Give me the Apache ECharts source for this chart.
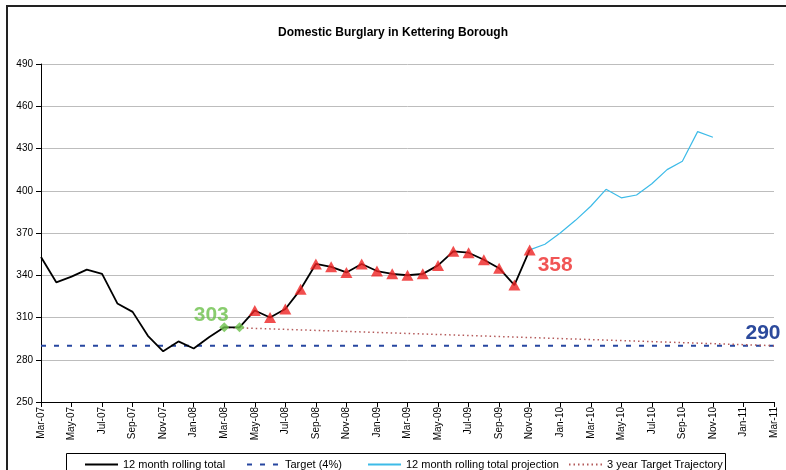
<!DOCTYPE html>
<html>
<head>
<meta charset="utf-8">
<title>Domestic Burglary in Kettering Borough</title>
<script src="https://cdn.jsdelivr.net/npm/echarts@6/dist/echarts.min.js"></script>
<style>
    html, body {margin: 0; padding: 0; background: #fff;}
    #chart {width: 786px; height: 470px;}
</style>
</head>
<body>
<div id="chart"></div>
<script>
// months Mar-07 .. Mar-11
const months = [
    'Mar-07', 'Apr-07', 'May-07', 'Jun-07', 'Jul-07', 'Aug-07', 'Sep-07', 'Oct-07', 'Nov-07', 'Dec-07',
    'Jan-08', 'Feb-08', 'Mar-08', 'Apr-08', 'May-08', 'Jun-08', 'Jul-08', 'Aug-08', 'Sep-08', 'Oct-08', 'Nov-08', 'Dec-08',
    'Jan-09', 'Feb-09', 'Mar-09', 'Apr-09', 'May-09', 'Jun-09', 'Jul-09', 'Aug-09', 'Sep-09', 'Oct-09', 'Nov-09', 'Dec-09',
    'Jan-10', 'Feb-10', 'Mar-10', 'Apr-10', 'May-10', 'Jun-10', 'Jul-10', 'Aug-10', 'Sep-10', 'Oct-10', 'Nov-10', 'Dec-10',
    'Jan-11', 'Feb-11', 'Mar-11'
];

// 12 month rolling total, Mar-07 .. Nov-09
const rollingTotal = [353, 335, 339, 344, 341, 320, 314, 297, 286, 293, 288, 296,
    303, 303, 315, 310, 316, 330, 348, 346, 342, 348, 343, 341, 340, 341, 347, 357, 356, 351, 345, 333, 358];

// projection, Nov-09 .. Nov-10
const projectionStart = 'Nov-09';
const projection = [358, 362, 370, 379, 389, 401, 395, 397, 405, 415, 421, 442, 438];

// target (4%) flat across the whole period
const targetValue = 290;

// 3 year target trajectory: straight line Mar-08 -> Mar-11
const trajectoryMonths = ['Mar-08', 'Mar-11'];
const trajectoryValues = [303, 290];

// markers on the rolling total line
const greenMonths = ['Mar-08', 'Apr-08'];
const redFrom = 'May-08';

const yTicks = {min: 250, max: 490, interval: 30};

const FONT = '"Liberation Sans", Arial, sans-serif';

let chart = echarts.init(document.getElementById('chart'));

let projIdx = months.indexOf(projectionStart);
let projData = months.map((m, i) => (i >= projIdx && i - projIdx < projection.length) ? projection[i - projIdx] : null);

let greenData = greenMonths.map(m => [m, rollingTotal[months.indexOf(m)]]);
let redIdx = months.indexOf(redFrom);
let redData = rollingTotal.slice(redIdx).map((v, k) => [months[redIdx + k], v]);
let lastRed = redData.length - 1;

let legendBase = {
    top: 454,
    itemWidth: 33,
    itemHeight: 12,
    // hide the symbol in the middle of the legend line
    itemStyle: {opacity: 0},
    textStyle: {fontFamily: FONT, fontSize: 11, color: '#000'}
};

const legendItem = (name, left) => Object.assign({left: left, data: [name]}, legendBase);

let option = {
    animation: false,
    backgroundColor: '#fff',
    title: {
        text: 'Domestic Burglary in Kettering Borough',
        left: 'center',
        top: 22,
        textStyle: {fontFamily: FONT, fontSize: 12, fontWeight: 'bold', color: '#000'}
    },
    graphic: [
        {
            type: 'rect', silent: true, z: -1,
            shape: {x: 7, y: 6, width: 820, height: 520},
            style: {fill: 'none', stroke: '#222', lineWidth: 2}
        },
        {
            type: 'rect', silent: true,
            shape: {x: 66.5, y: 453.5, width: 659, height: 30},
            style: {fill: '#fff', stroke: '#000', lineWidth: 1}
        }
    ],
    legend: [
        legendItem('12 month rolling total', 79),
        legendItem('Target (4%)', 241),
        legendItem('12 month rolling total projection', 362),
        legendItem('3 year Target Trajectory', 563)
    ],
    grid: {left: 41, right: 12, top: 64, bottom: 68},
    xAxis: {
        type: 'category',
        data: months,
        boundaryGap: false,
        axisLine: {lineStyle: {color: '#000', width: 1}},
        axisTick: {interval: 1, length: 5, lineStyle: {color: '#000'}},
        axisLabel: {
            interval: 1,
            rotate: 90,
            margin: 5,
            fontFamily: FONT,
            fontSize: 10,
            color: '#000'
        },
        splitLine: {show: false}
    },
    yAxis: {
        type: 'value',
        min: yTicks.min,
        max: yTicks.max,
        interval: yTicks.interval,
        axisLine: {show: true, lineStyle: {color: '#000', width: 1}},
        axisTick: {show: true, length: 5, lineStyle: {color: '#000'}},
        axisLabel: {fontFamily: FONT, fontSize: 10, color: '#000', margin: 8},
        splitLine: {lineStyle: {color: '#bdbdbd', width: 1}}
    },
    series: [
        {
            name: 'Target (4%)',
            type: 'line',
            data: [[months[0], targetValue], {
                value: [months[months.length - 1], targetValue],
                label: {
                    show: true,
                    formatter: String(targetValue),
                    position: 'top',
                    distance: 2,
                    offset: [-11, 0],
                    fontFamily: FONT,
                    fontSize: 21,
                    fontWeight: 'bold',
                    color: '#2c4a9c'
                }
            }],
            symbol: 'circle',
            symbolSize: 0,
            lineStyle: {color: '#2646a0', width: 2, type: [5, 8]},
            itemStyle: {color: '#2646a0'},
            z: 2
        },
        {
            name: '3 year Target Trajectory',
            type: 'line',
            data: trajectoryMonths.map((m, i) => [m, trajectoryValues[i]]),
            symbol: 'none',
            lineStyle: {color: '#b45a5a', width: 1.5, type: [1.5, 3]},
            itemStyle: {color: '#b45a5a'},
            z: 2
        },
        {
            name: '12 month rolling total projection',
            type: 'line',
            data: projData,
            symbol: 'none',
            lineStyle: {color: '#3dbbe8', width: 1.2},
            itemStyle: {color: '#3dbbe8'},
            z: 3
        },
        {
            name: '12 month rolling total',
            type: 'line',
            data: rollingTotal,
            symbol: 'none',
            lineStyle: {color: '#000', width: 1.8},
            itemStyle: {color: '#000'},
            z: 4
        },
        {
            name: 'green markers',
            type: 'scatter',
            data: greenData.map((d, i) => i === 0 ? {
                value: d,
                label: {
                    show: true,
                    formatter: String(d[1]),
                    position: 'top',
                    offset: [-13, 8],
                    fontFamily: FONT,
                    fontSize: 21,
                    fontWeight: 'bold',
                    color: '#6cc04a'
                }
            } : d),
            symbol: 'diamond',
            symbolSize: 10,
            itemStyle: {color: '#6cc04a'},
            z: 5
        },
        {
            name: 'red markers',
            type: 'scatter',
            data: redData.map((d, i) => i === lastRed ? {
                value: d,
                label: {
                    show: true,
                    formatter: String(d[1]),
                    position: 'right',
                    offset: [-3, 15],
                    fontFamily: FONT,
                    fontSize: 21,
                    fontWeight: 'bold',
                    color: '#ee2a2a'
                }
            } : d),
            symbol: 'triangle',
            symbolSize: [12, 11],
            itemStyle: {color: '#ee2222'},
            z: 5
        }
    ]
};

chart.setOption(option);
</script>
</body>
</html>
